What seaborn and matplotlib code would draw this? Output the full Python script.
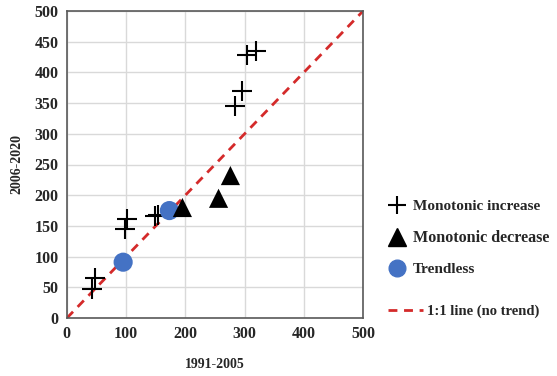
import matplotlib
matplotlib.use("Agg")
import matplotlib.pyplot as plt
import seaborn as sns
import pandas as pd
from matplotlib.lines import Line2D

sns.set_theme(style="white")
plt.rcParams['font.family'] = ['Liberation Serif', 'DejaVu Serif']

inc_x = [304, 320, 295, 284, 101, 98, 149, 154, 47, 42]
inc_y = [428, 435, 369, 345, 162, 145, 166, 168, 66, 48]
dec_x = [195, 256, 276]
dec_y = [180, 195, 232]
tl_x = [95, 173]
tl_y = [91, 175]
line_x = [0, 500]
line_y = [0, 500]
ticks = [0, 100, 200, 300, 400, 500]
yticks = [0, 50, 100, 150, 200, 250, 300, 350, 400, 450, 500]

fig = plt.figure(figsize=(5.57, 3.76), dpi=100)
ax = fig.add_axes([0.120, 0.154, 0.532, 0.817])

red = "#d42a2a"
dash = (0, (3.2, 2.4))
sns.lineplot(x=line_x, y=line_y, ax=ax, color=red, linestyle=dash,
             linewidth=2.0, zorder=2)
inc = pd.DataFrame({"x": inc_x, "y": inc_y})
dec = pd.DataFrame({"x": dec_x, "y": dec_y})
tl = pd.DataFrame({"x": tl_x, "y": tl_y})
sns.scatterplot(data=inc, x="x", y="y", ax=ax, marker="+", s=200, color="black",
                linewidth=1.5, zorder=3)
sns.scatterplot(data=tl, x="x", y="y", ax=ax, marker="o", s=190, color="#4472c4",
                edgecolor="none", zorder=3)
sns.scatterplot(data=dec, x="x", y="y", ax=ax, marker="^", s=190, color="black",
                edgecolor="none", zorder=4)

ax.set_xlim(0, 500)
ax.set_ylim(0, 500)
ax.set_xticks(ticks)
ax.set_yticks(yticks)
ax.grid(True, color="#d9d9d9", linewidth=1.0)
ax.set_axisbelow(True)
for s in ax.spines.values():
    s.set_color("#595959")
    s.set_linewidth(1.2)
ax.tick_params(axis="both", length=0, pad=6, labelsize=11.5)
for lab in ax.get_xticklabels() + ax.get_yticklabels():
    lab.set_fontweight("bold")
ax.set_xlabel("1991-2005", fontsize=10, fontweight="bold", labelpad=11)
ax.set_ylabel("2006-2020", fontsize=10, fontweight="bold", labelpad=8)

handles = [
    Line2D([], [], marker="+", color="black", linestyle="none", markersize=13, markeredgewidth=1.5),
    Line2D([], [], marker="^", color="black", linestyle="none", markersize=13),
    Line2D([], [], marker="o", color="#4472c4", linestyle="none", markersize=12),
]
labels = ["Monotonic increase", "Monotonic decrease", "Trendless"]
leg = fig.legend(handles, labels, loc="upper left", bbox_to_anchor=(0.683, 0.49),
                 frameon=False, labelspacing=1.1, handlelength=1.2, handletextpad=0.4,
                 borderpad=0, prop={"weight": "bold", "size": 11})
leg.get_texts()[1].set_fontsize(11.6)

leg2 = fig.legend([Line2D([], [], color=red, linestyle=dash, linewidth=2.0)],
                  ["1:1 line (no trend)"], loc="upper left", bbox_to_anchor=(0.683, 0.21),
                  frameon=False, handlelength=2.4, handletextpad=0.3, borderpad=0,
                  prop={"weight": "bold", "size": 10.5})

fig.savefig("out.png", dpi=100)
